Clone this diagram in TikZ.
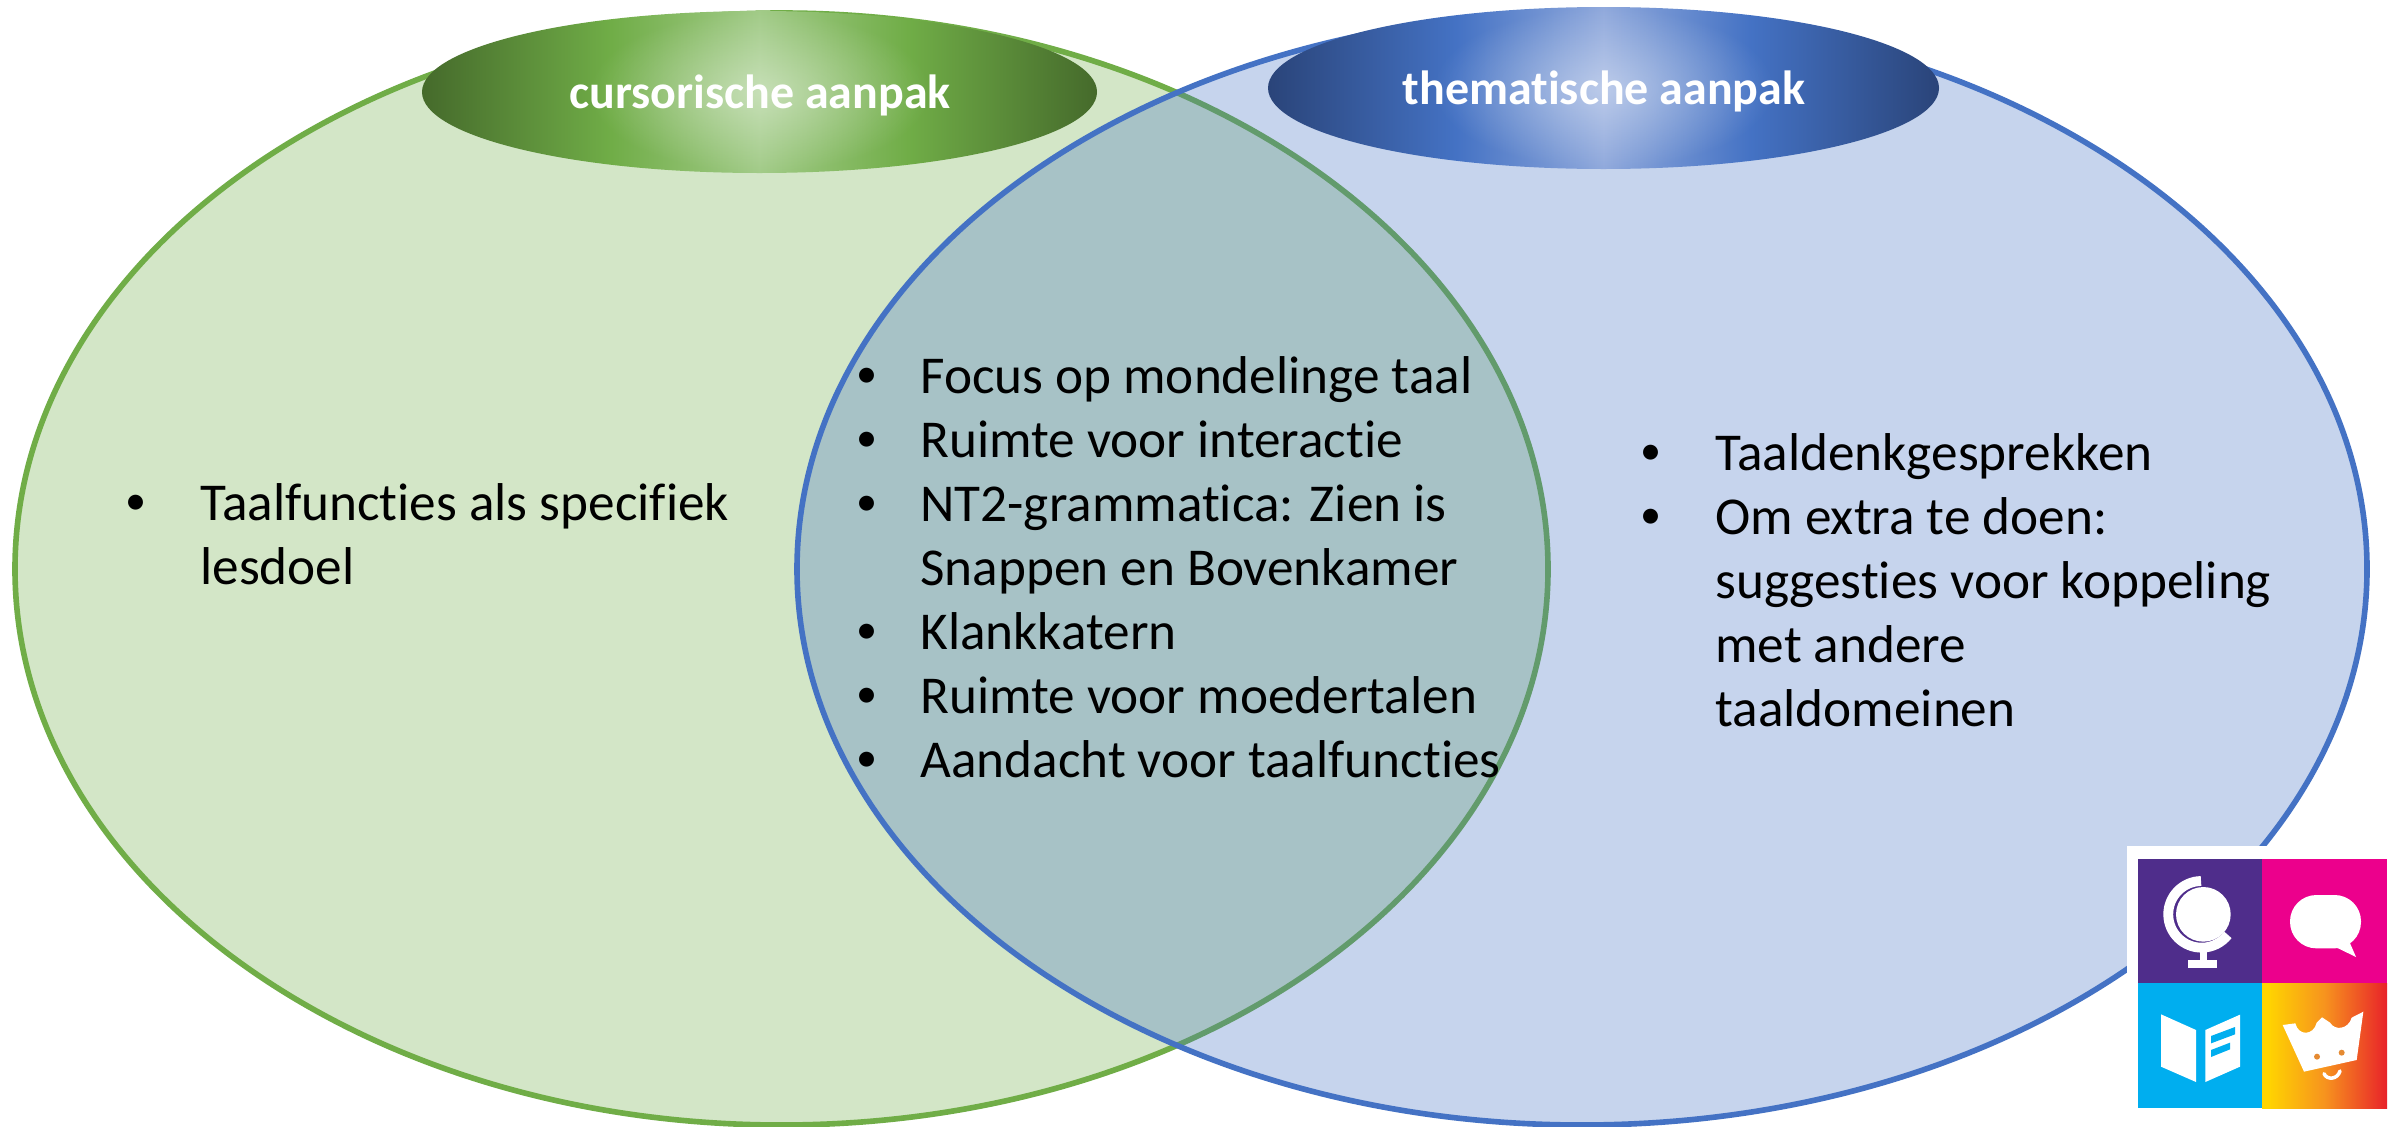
\documentclass[tikz,border=0pt]{standalone}
\usepackage{fontspec}
\setmainfont[Ligatures=NoCommon]{Carlito}
\usetikzlibrary{fadings}
\definecolor{greenline}{HTML}{70AD47}
\definecolor{blueline}{HTML}{4472C4}
\definecolor{gEdge}{HTML}{456A2B}
\definecolor{gMid}{HTML}{70AD47}
\definecolor{gLight}{HTML}{A2CB88}
\definecolor{bEdge}{HTML}{2A4479}
\definecolor{bMid}{HTML}{4472C4}
\definecolor{bLight}{HTML}{90A9DC}
\definecolor{logoPurple}{HTML}{4F2D8B}
\definecolor{logoPink}{HTML}{EC008C}
\definecolor{logoBlue}{HTML}{00AEEF}
\definecolor{logoOrange}{HTML}{E58A32}
\definecolor{heatA}{HTML}{FFD500}
\definecolor{heatB}{HTML}{F7931E}
\definecolor{heatC}{HTML}{E8222A}
\pgfdeclarehorizontalshading{greenlabel}{100bp}{color(0bp)=(gEdge); color(25bp)=(gEdge); color(39bp)=(gMid); color(50bp)=(gLight); color(61bp)=(gMid); color(75bp)=(gEdge); color(100bp)=(gEdge)}
\pgfdeclarehorizontalshading{bluelabel}{100bp}{color(0bp)=(bEdge); color(25bp)=(bEdge); color(39bp)=(bMid); color(50bp)=(bLight); color(61bp)=(bMid); color(75bp)=(bEdge); color(100bp)=(bEdge)}
\pgfdeclarehorizontalshading{logoheat}{100bp}{color(0bp)=(heatA); color(27bp)=(heatA); color(50bp)=(heatB); color(75bp)=(heatC); color(100bp)=(heatC)}
\tikzfading[name=labelglow, inner color=transparent!60, outer color=transparent!100]
\tikzset{
  venn/.style={line width=3.2pt, fill opacity=0.3, draw opacity=1},
  listtext/.style={anchor=base west,inner sep=0pt,font=\fontsize{30.3pt}{36pt}\selectfont,text=black},
  dottext/.style={anchor=base,inner sep=0pt,font=\fontsize{24pt}{36pt}\selectfont,text=black},
  headtext/.style={anchor=base,inner sep=0pt,font=\fontsize{27.3pt}{32pt}\selectfont\bfseries,text=white}
}
\begin{document}
\begin{tikzpicture}[x=0.02cm,y=-0.02cm]
\useasboundingbox (0,0) rectangle (2392,1126);
\fill[white] (0,0) rectangle (2392,1126);
% Venn circles
\draw[venn,draw=greenline,fill=greenline] (781.5,569) ellipse [x radius=766.5,y radius=556];
\draw[venn,draw=blueline,fill=blueline] (1582,569) ellipse [x radius=785,y radius=556];
% header blobs
\path[shading=greenlabel] (759.5,92) ellipse [x radius=337.5,y radius=81];
\fill[white,path fading=labelglow] (759.5,92) ellipse [x radius=170,y radius=81];
\path[shading=bluelabel] (1603.5,88) ellipse [x radius=335.5,y radius=81];
\fill[white,path fading=labelglow] (1603.5,88) ellipse [x radius=170,y radius=81];
\node[headtext] (headleft) at (760,108) {cursorische aanpak};
\node[headtext] (headright) at (1604,104) {thematische aanpak};
% left list
\node[dottext] (la) at (136,514) {•};
\node[listtext] (lb) at (200,520) {Taalfuncties als specifiek};
\node[listtext] (lc) at (200,584) {lesdoel};
% middle list
\node[dottext] (ma) at (867,387) {•};
\node[listtext] (mb) at (920,393) {Focus op mondelinge taal};
\node[dottext] (mc) at (867,451) {•};
\node[listtext] (md) at (920,457) {Ruimte voor interactie};
\node[dottext] (me) at (867,515) {•};
\node[listtext] (mf) at (920,521) {NT2-grammatica: Zien is};
\node[listtext] (mg) at (920,585) {Snappen en Bovenkamer};
\node[dottext] (mh) at (867,643) {•};
\node[listtext] (mi) at (920,649) {Klankkatern};
\node[dottext] (mj) at (867,707) {•};
\node[listtext] (mk) at (920,713) {Ruimte voor moedertalen};
\node[dottext] (ml) at (867,771) {•};
\node[listtext] (mm) at (920,777) {Aandacht voor taalfuncties};
% right list
\node[dottext] (ra) at (1651,464) {•};
\node[listtext] (rb) at (1715,470) {Taaldenkgesprekken};
\node[dottext] (rc) at (1651,528) {•};
\node[listtext] (rd) at (1715,534) {Om extra te doen:};
\node[listtext] (re) at (1715,598) {suggesties voor koppeling};
\node[listtext] (rf) at (1715,662) {met andere};
\node[listtext] (rg) at (1715,726) {taaldomeinen};
% logo
\fill[white] (2127,846) rectangle (2392,1126);
\fill[logoPurple] (2138,859) rectangle (2262,983);
\fill[logoPink] (2262,859) rectangle (2387,983);
\fill[logoBlue] (2138,983) rectangle (2262,1108);
\path[shading=logoheat] (2262,983) rectangle (2387,1108);
\begin{scope}[shift={(2100,826)},x=0.02cm/3,y=-0.02cm/3]
  % globe
  \fill[white] (310,265) circle [radius=82];
  \draw[white,line width=5.6pt] (303,165) arc [start angle=-91,end angle=-322,radius=100];
  \fill[white] (300,364) rectangle (320,405);
  \fill[white] (265,403) rectangle (350,425);
  % speech bubble
  \fill[white,rounded corners=15pt] (570,207) rectangle (783,367);
  \fill[white] (700,360) -- (768,393) -- (745,340) -- cycle;
  % book
  \fill[white] (183,565) -- (288,612) -- (288,768) -- (183,722) -- cycle;
  \fill[white] (316,612) -- (420,566) -- (420,722) -- (316,768) -- cycle;
  \fill[logoBlue] (333,630) -- (405,603) -- (405,625) -- (333,652) -- cycle;
  \fill[logoBlue] (333,672) -- (390,650) -- (390,670) -- (333,693) -- cycle;
  % crown
  \fill[white] (548,597) -- (586,592) .. controls (595,630) and (640,630) .. (650,590)
     -- (666,574) -- (690,590) .. controls (705,615) and (745,610) .. (755,575)
     -- (790,557) -- (770,702) -- (612,737) -- cycle;
  \fill[logoOrange] (651,692) circle [radius=9];
  \fill[logoOrange] (725,680) circle [radius=9];
  \draw[white,line width=2pt,line cap=round] (672,743) .. controls (680,762) and (712,762) .. (720,735);
\end{scope}
\end{tikzpicture}
\end{document}
